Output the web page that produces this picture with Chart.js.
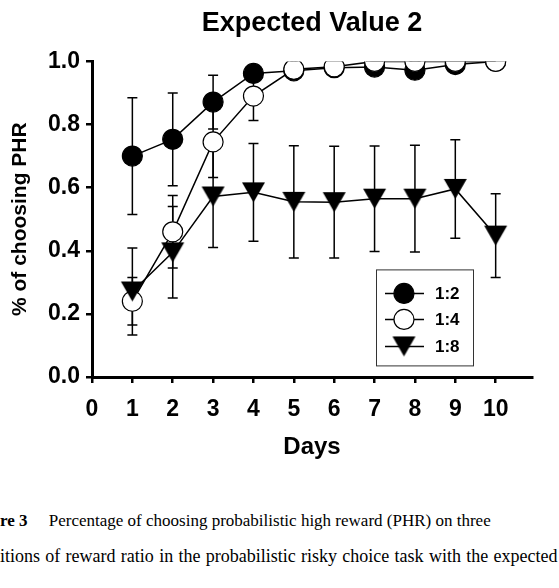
<!DOCTYPE html>
<html>
<head>
<meta charset="utf-8">
<script src="https://cdn.jsdelivr.net/npm/chart.js@4.4.0/dist/chart.umd.min.js"></script>
<style>
  html, body { margin: 0; padding: 0; background: #fff; }
  #wrap { position: relative; width: 559px; height: 588px; overflow: hidden; }
  #evChart { position: absolute; left: 0; top: 0; }
  .caption {
    position: absolute; left: 0; white-space: nowrap; color: #000;
    font-family: 'Liberation Serif', 'Times New Roman', serif; font-size: 18px;
  }
</style>
</head>
<body>
<div id="wrap">
  <canvas id="evChart" width="559" height="480"></canvas>
  <div class="caption" style="top: 511px; font-size: 17px;"><b>re 3</b>&nbsp;&nbsp;&nbsp;&nbsp; Percentage of choosing probabilistic high reward (PHR) on three</div>
  <div class="caption" style="top: 546px; word-spacing: 0.8px;">itions of reward ratio in the probabilistic risky choice task with the expected</div>
</div>
<script>
// --- Data (mean and SEM per day) ---
const days = [1, 2, 3, 4, 5, 6, 7, 8, 9, 10];
const xTicks = [0, 1, 2, 3, 4, 5, 6, 7, 8, 9, 10];
const yTicks = [0, 0.2, 0.4, 0.6, 0.8, 1.0];
const seriesLabels = ['1:2', '1:4', '1:8'];

const ratio12 = [0.70, 0.753, 0.871, 0.962, 0.97, 0.98, 0.982, 0.972, 0.99, 1.0];
const ratio12Err = [0.185, 0.147, 0.085, 0.02, 0.01, 0.01, 0.01, 0.01, 0.005, 0];
const ratio14 = [0.24, 0.46, 0.745, 0.89, 0.975, 0.983, 1.0, 1.0, 1.0, 1.0];
const ratio14Err = [0.075, 0.115, 0.113, 0.077, 0.01, 0.01, 0, 0, 0, 0];
const ratio18 = [0.271, 0.395, 0.572, 0.585, 0.555, 0.554, 0.565, 0.565, 0.596, 0.448];
const ratio18Err = [0.138, 0.145, 0.162, 0.155, 0.178, 0.177, 0.167, 0.169, 0.156, 0.133];

const FONT = "'Liberation Sans', Arial, Helvetica, sans-serif";

// downward triangle marker, centred on its box
function makeTriangle(w, h) {
  const c = document.createElement('canvas');
  c.width = w + 2;
  c.height = h + 2;
  const g = c.getContext('2d');
  g.fillStyle = '#000';
  g.beginPath();
  g.moveTo(1, 1);
  g.lineTo(w + 1, 1);
  g.lineTo(w / 2 + 1, h + 1);
  g.closePath();
  g.fill();
  return c;
}
const triMarker = makeTriangle(23, 20);

const toPoints = vals => vals.map((v, i) => ({ x: days[i], y: v }));

// vertical error bars with caps, drawn under the markers
const errorBars = {
  id: 'errorBars',
  beforeDatasetsDraw(chart) {
    const { ctx, scales: { x, y } } = chart;
    ctx.save();
    ctx.strokeStyle = '#000';
    ctx.lineWidth = 1.5;
    chart.data.datasets.forEach(ds => {
      ds.data.forEach((pt, i) => {
        const e = ds.errors[i];
        if (!e) return;
        const px = x.getPixelForValue(pt.x);
        const top = y.getPixelForValue(pt.y + e);
        const bot = y.getPixelForValue(pt.y - e);
        ctx.beginPath();
        ctx.moveTo(px, top); ctx.lineTo(px, bot);
        ctx.moveTo(px - 5, top); ctx.lineTo(px + 5, top);
        ctx.moveTo(px - 5, bot); ctx.lineTo(px + 5, bot);
        ctx.stroke();
      });
    });
    ctx.restore();
  }
};

// boxed legend inside the plot, lower right
const boxLegend = {
  id: 'boxLegend',
  afterDraw(chart) {
    const { ctx, chartArea: a } = chart;
    const left = a.left + 284, top = a.top + 208, w = 97, h = 96;
    ctx.save();
    ctx.fillStyle = '#fff';
    ctx.fillRect(left, top, w, h);
    ctx.strokeStyle = '#333';
    ctx.lineWidth = 1;
    ctx.strokeRect(left + 0.5, top + 0.5, w, h);
    const rows = [24, 50, 77];
    chart.data.datasets.forEach((ds, i) => {
      const ry = top + rows[i];
      ctx.strokeStyle = '#000';
      ctx.lineWidth = 1.5;
      ctx.beginPath();
      ctx.moveTo(left + 9, ry);
      ctx.lineTo(left + 48, ry);
      ctx.stroke();
      const mx = left + 28;
      if (ds.pointStyle === 'circle') {
        ctx.beginPath();
        ctx.arc(mx, ry, 10, 0, Math.PI * 2);
        ctx.fillStyle = ds.pointBackgroundColor;
        ctx.fill();
        ctx.lineWidth = 1.2;
        ctx.stroke();
      } else {
        ctx.drawImage(triMarker, mx - triMarker.width / 2, ry - triMarker.height / 2);
      }
      ctx.fillStyle = '#000';
      ctx.font = 'bold 17px ' + FONT;
      ctx.textAlign = 'left';
      ctx.textBaseline = 'middle';
      ctx.fillText(ds.label, left + 59, ry + 1);
    });
    ctx.restore();
  }
};

const ctx = document.getElementById('evChart').getContext('2d');

new Chart(ctx, {
  type: 'line',
  data: {
    datasets: [{
      label: seriesLabels[0],
      data: toPoints(ratio12),
      errors: ratio12Err,
      borderColor: '#000',
      borderWidth: 1.5,
      pointStyle: 'circle',
      pointRadius: 10,
      pointHoverRadius: 10,
      pointBackgroundColor: '#000',
      pointBorderColor: '#000',
      pointBorderWidth: 1.2,
      order: 3
    }, {
      label: seriesLabels[1],
      data: toPoints(ratio14),
      errors: ratio14Err,
      borderColor: '#000',
      borderWidth: 1.5,
      pointStyle: 'circle',
      pointRadius: 10,
      pointHoverRadius: 10,
      pointBackgroundColor: '#fff',
      pointBorderColor: '#000',
      pointBorderWidth: 1.2,
      order: 2
    }, {
      label: seriesLabels[2],
      data: toPoints(ratio18),
      errors: ratio18Err,
      borderColor: '#000',
      borderWidth: 1.5,
      pointStyle: triMarker,
      pointRadius: 12,
      pointHoverRadius: 12,
      order: 1
    }]
  },
  options: {
    responsive: false,
    animation: false,
    layout: { padding: { left: 0, right: 27, top: 0, bottom: 0 } },
    plugins: {
      legend: { display: false },
      tooltip: { enabled: false },
      title: {
        display: true,
        text: 'Expected Value 2',
        color: '#000',
        fullSize: false,
        font: { family: FONT, size: 27, weight: 'bold' },
        padding: { top: 7, bottom: 22 }
      }
    },
    scales: {
      x: {
        type: 'linear',
        min: 0,
        max: 10.9,
        afterBuildTicks: s => { s.ticks = xTicks.map(v => ({ value: v })); },
        afterFit: s => { s.height = 103; },
        border: { display: true, color: '#000', width: 3 },
        grid: { drawOnChartArea: false, drawTicks: true, tickLength: 6, color: '#000', lineWidth: 2.5 },
        ticks: { color: '#000', padding: 13, maxRotation: 0, font: { family: FONT, size: 23, weight: 'bold' } },
        title: {
          display: true, text: 'Days', color: '#000',
          font: { family: FONT, size: 24, weight: 'bold' },
          padding: { top: 4, bottom: 18 }
        }
      },
      y: {
        min: 0,
        max: 1,
        afterBuildTicks: s => { s.ticks = yTicks.map(v => ({ value: v })); },
        afterFit: s => { s.width = 92; },
        border: { display: true, color: '#000', width: 3 },
        grid: { drawOnChartArea: false, drawTicks: true, tickLength: 6, color: '#000', lineWidth: 2.5 },
        ticks: {
          color: '#000', padding: 6,
          font: { family: FONT, size: 23, weight: 'bold' },
          callback: v => v.toFixed(1)
        },
        title: {
          display: true, text: '% of choosing PHR', color: '#000',
          font: { family: FONT, size: 21, weight: 'bold' },
          padding: { top: 8, bottom: 0 }
        }
      }
    }
  },
  plugins: [errorBars, boxLegend]
});
</script>
</body>
</html>
